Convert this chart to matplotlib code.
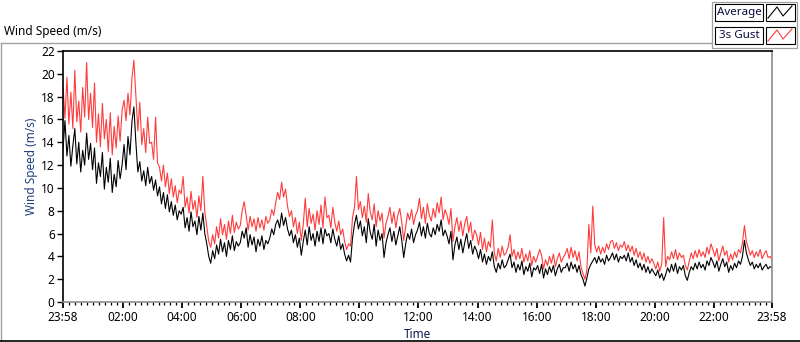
import numpy as np
import matplotlib
matplotlib.use("Agg")
import matplotlib.pyplot as plt
from matplotlib.patches import Rectangle
from matplotlib.lines import Line2D

plt.rcParams['font.family'] = ['Noto Sans', 'DejaVu Sans']

# ---- data (sampled every 4 minutes from 23:58 to 23:58) ----
sample_minutes = 4
series_names = ["Average", "3s Gust"]

average = [
    13.4, 15.9, 12.8, 14.6, 11.9, 13.7, 15.2, 12.1, 14.0, 11.4, 13.3, 12.0, 14.8, 12.5, 13.9,
    11.6, 13.5, 10.4, 12.2, 11.0, 13.1, 9.9, 11.8, 10.5, 12.6, 9.6, 11.2, 10.1, 12.4, 10.8,
    12.0, 13.8, 11.6, 14.5, 12.9, 15.8, 17.1, 14.0, 11.4, 12.3, 10.6, 11.5, 10.2, 11.8, 10.4,
    11.0, 9.8, 10.7, 9.3, 10.1, 8.6, 9.6, 8.2, 9.4, 7.9, 8.8, 7.6, 8.5, 7.2, 8.0,
    7.7, 8.3, 6.5, 7.4, 6.2, 7.9, 6.6, 7.1, 5.9, 7.5, 6.3, 7.8, 6.0, 5.1, 4.0,
    3.4, 4.5, 3.8, 5.0, 4.2, 5.5, 4.4, 5.2, 4.0, 5.4, 4.6, 5.8, 4.5, 5.3, 4.9,
    5.2, 6.2, 5.6, 6.5, 4.8, 5.9, 5.0, 5.7, 4.4, 5.5, 4.9, 5.8, 4.6, 5.4, 5.1,
    5.6, 6.4, 5.9, 6.8, 7.2, 6.5, 7.8, 6.7, 7.4, 6.4, 5.8, 6.3, 5.2, 5.9, 4.8,
    5.6, 4.1, 5.3, 6.3, 5.0, 6.6, 5.4, 6.0, 4.9, 6.2, 5.3, 6.5, 5.1, 6.4, 5.8,
    6.0, 5.2, 6.4, 5.5, 4.9, 5.8, 4.6, 5.1, 4.2, 3.6, 4.1, 3.5, 5.6, 6.8, 7.6,
    6.4, 7.1, 5.8, 6.6, 5.2, 7.3, 6.1, 5.5, 6.8, 4.9, 6.3, 5.4, 6.0, 3.9, 5.2,
    5.9, 6.5, 5.3, 6.2, 5.0, 5.8, 6.6, 5.4, 3.9, 5.1, 6.0, 5.5, 6.4, 5.2, 5.9,
    6.3, 7.0, 5.8, 6.6, 5.6, 6.9, 6.0, 5.7, 6.5, 5.9, 6.8, 6.2, 7.2, 5.8, 6.3,
    5.8, 5.1, 6.2, 3.7, 5.0, 5.7, 4.6, 5.5, 4.3, 5.2, 6.0, 4.7, 5.4, 4.2, 4.9,
    4.5, 3.8, 4.6, 3.5, 4.2, 3.3, 4.0, 3.6, 4.4, 3.1, 2.6, 3.4, 2.9, 3.7, 3.0,
    3.2, 3.7, 4.2, 3.0, 3.5, 2.6, 3.3, 2.8, 3.6, 2.4, 3.1, 2.7, 3.4, 2.2, 3.0,
    2.8, 3.2, 2.5, 3.3, 2.1, 2.9, 2.4, 3.1, 2.6, 3.2, 2.3, 2.9, 3.3, 2.6, 3.0,
    3.0, 3.4, 2.7, 3.5, 2.9, 3.3, 2.6, 3.2, 2.4, 2.0, 1.4, 2.1, 2.9, 3.3, 3.6,
    3.9, 3.4, 4.0, 3.5, 3.8, 3.3, 4.1, 3.6, 3.9, 4.3, 3.7, 4.2, 3.5, 4.0, 3.8,
    4.1, 3.6, 4.3, 3.5, 3.9, 3.2, 3.7, 3.0, 3.4, 2.8, 3.3, 2.6, 3.1, 2.5, 2.9,
    2.6, 2.3, 2.8, 2.1, 2.5, 1.9, 2.4, 3.0, 2.6, 3.3, 2.7, 3.4, 2.5, 3.1, 2.8,
    3.2, 2.3, 1.9, 2.6, 3.1, 2.8, 3.4, 2.9, 3.5, 3.0, 3.3, 2.8, 3.6, 3.2, 3.9,
    3.5, 3.0, 3.6, 2.7, 3.3, 3.8, 3.1, 3.5, 2.6, 3.2, 2.8, 3.4, 3.0, 3.6, 3.3,
    4.0, 5.4, 4.3, 3.7, 3.2, 3.5, 2.9, 3.3, 3.0, 3.4, 2.8, 3.1, 3.3, 2.9, 3.1,
    3.0,
]

gust = [
    18.9, 16.1, 19.7, 15.6, 18.4, 15.2, 20.3, 15.8, 17.6, 14.9, 18.8, 16.2, 21.0, 16.0, 18.3,
    15.3, 19.2, 14.0, 16.5, 13.6, 17.4, 14.3, 16.0, 13.2, 16.6, 12.9, 15.4, 13.5, 16.3, 14.1,
    16.8, 17.7, 15.9, 18.3, 16.4, 19.6, 21.2, 18.1, 15.0, 17.5, 13.8, 15.2, 13.1, 16.2, 13.9,
    14.0, 12.5, 16.2, 12.2, 11.8, 10.6, 12.0, 10.1, 11.3, 9.5, 10.8, 9.2, 10.2, 8.7, 9.8,
    9.5, 11.0, 8.3, 9.2, 7.8, 9.7, 8.1, 8.9, 7.4, 9.3, 8.0, 11.0, 7.9, 6.6, 5.3,
    4.8, 5.9, 5.1, 6.6, 5.6, 7.3, 5.9, 6.8, 5.5, 7.1, 6.0, 7.6, 6.1, 7.0, 6.4,
    6.7, 8.0, 8.8, 7.6, 6.3, 7.5, 6.6, 7.3, 6.2, 7.4, 6.5, 7.2, 6.3, 7.5, 6.9,
    7.2, 8.1, 7.6, 8.7, 9.6, 9.0, 10.5, 9.2, 9.9, 8.4, 7.5, 8.0, 6.6, 7.4, 6.0,
    7.0, 5.4, 6.8, 9.1, 6.6, 8.2, 6.9, 7.7, 6.3, 8.0, 6.8, 8.5, 6.5, 9.2, 7.4,
    7.6, 6.5, 8.3, 7.0, 6.2, 7.1, 5.9, 6.4, 5.3, 4.6, 5.1, 4.9, 7.4, 8.3, 11.0,
    8.1, 8.8, 7.4, 8.4, 7.0, 9.5, 7.9, 7.2, 8.6, 6.6, 8.0, 7.1, 7.8, 5.6, 6.9,
    7.5, 8.3, 6.9, 7.9, 6.5, 7.6, 8.2, 7.0, 5.4, 6.6, 7.8, 7.2, 8.1, 6.8, 7.6,
    8.0, 9.1, 7.3, 8.3, 6.9, 8.6, 7.6, 7.1, 8.2, 7.4, 8.7, 7.8, 9.2, 7.2, 8.1,
    7.6, 6.8, 8.2, 5.3, 6.6, 7.4, 6.2, 7.1, 5.8, 6.9, 7.5, 6.1, 7.0, 5.4, 6.3,
    5.9, 5.0, 6.1, 4.6, 5.6, 4.4, 5.3, 4.8, 7.2, 4.3, 3.6, 4.7, 3.9, 4.9, 4.1,
    4.3, 4.8, 5.9, 4.0, 4.6, 3.7, 4.4, 3.8, 4.7, 3.5, 4.2, 3.6, 4.5, 3.2, 4.0,
    3.5, 4.0, 4.6, 4.1, 2.9, 3.7, 3.2, 4.0, 3.4, 4.2, 3.1, 3.8, 4.3, 3.5, 3.9,
    4.2, 4.7, 3.8, 4.8, 3.9, 4.5, 3.6, 4.4, 3.1, 2.5, 2.0, 2.8, 6.8, 4.3, 8.4,
    5.0, 4.4, 4.9, 4.2, 4.8, 4.3, 5.1, 4.6, 5.3, 5.4, 4.7, 5.2, 4.5, 5.0, 4.8,
    5.3, 4.5, 5.0, 4.4, 4.9, 4.1, 4.7, 3.9, 4.4, 3.7, 4.3, 3.5, 4.0, 3.4, 3.8,
    3.4, 2.9, 3.5, 2.7, 3.3, 7.4, 3.1, 4.0, 3.7, 4.4, 3.8, 4.6, 3.7, 4.3, 3.9,
    4.1, 3.2, 2.8, 3.6, 4.3, 3.8, 4.5, 3.9, 4.6, 4.0, 4.4, 3.9, 4.8, 4.2, 5.1,
    4.6, 4.0, 4.7, 3.6, 4.3, 4.9, 4.1, 4.5, 3.5, 4.2, 3.7, 4.4, 3.9, 4.6, 4.3,
    5.2, 6.7, 5.3, 4.7, 4.1, 4.5, 3.9, 4.4, 4.0, 4.6, 3.8, 4.2, 4.5, 3.9, 4.0,
    3.7,
]

x_tick_minutes = [0, 122, 242, 362, 482, 602, 722, 842, 962, 1082, 1202, 1322, 1440]
x_tick_labels = ["23:58", "02:00", "04:00", "06:00", "08:00", "10:00", "12:00",
                 "14:00", "16:00", "18:00", "20:00", "22:00", "23:58"]
y_ticks = list(range(0, 23, 2))

# ---- figure ----
W, H = 800, 342
fig = plt.figure(figsize=(W / 100, H / 100), dpi=100, facecolor="white")

# decoration overlay in pixel coordinates
deco = fig.add_axes([0, 0, 1, 1], zorder=0)
deco.set_xlim(0, W)
deco.set_ylim(H, 0)
deco.axis("off")
gray = "#a0a0a0"
deco.add_line(Line2D([0.5, 712], [42.5, 42.5], color=gray, lw=1.0))
deco.add_line(Line2D([1, 1], [42.5, 341], color=gray, lw=1.0))
deco.add_line(Line2D([0, W], [341, 341], color="black", lw=1.2))
# legend frame
deco.add_patch(Rectangle((712, 1.5), 85, 46, facecolor="white", edgecolor=gray, lw=0.9))
label_colors = ["black", "#ff3c3c"]
for i, (name, col) in enumerate(zip(series_names, label_colors)):
    y0 = 4 + i * 23
    deco.add_patch(Rectangle((715, y0), 48, 17, facecolor="white", edgecolor="black", lw=0.8))
    deco.text(739, y0 + 8.5, name, ha="center", va="center", fontsize=8.3, color="#0a0a40")
    deco.add_patch(Rectangle((766, y0), 29, 17, facecolor="white", edgecolor="black", lw=0.8))
    zx = [768, 774.5, 779.5, 785.5, 792]
    zy = [y0 + 14.5, y0 + 8, y0 + 3, y0 + 12, y0 + 3]
    deco.add_line(Line2D([768, 777, 783, 792], [y0 + 14, y0 + 3, y0 + 12, y0 + 2], color=col, lw=0.8))

fig.text(4 / W, 1 - 32 / H, "Wind Speed (m/s)", ha="left", va="center", fontsize=8.5, color="black")

# main axes
ax = fig.add_axes([63 / W, 1 - 302 / H, (772 - 63) / W, (302 - 51) / H], zorder=2)
ax.set_facecolor("white")
t = np.arange(len(average)) * sample_minutes
ax.plot(t, gust, color="#ff3c3c", lw=0.8, label=series_names[1])
ax.plot(t, average, color="black", lw=0.8, label=series_names[0])

ax.set_xlim(0, 1440)
ax.set_ylim(0, 22)
ax.set_xticks(x_tick_minutes)
ax.set_xticklabels(x_tick_labels)
minor = []
for a, b in zip(x_tick_minutes[:-1], x_tick_minutes[1:]):
    minor.extend(np.linspace(a, b, 11)[1:-1])
ax.set_xticks(minor, minor=True)
ax.set_yticks(y_ticks)
ax.tick_params(axis="both", which="major", direction="out", length=4, width=1.0,
               labelsize=8.5, colors="black", pad=2)
ax.tick_params(axis="x", which="minor", direction="out", length=2.5, width=0.9, color="black")
ax.tick_params(axis="x", which="major", length=4.5, width=1.3, pad=2)

for side in ["left", "top"]:
    ax.spines[side].set_color("black")
    ax.spines[side].set_linewidth(1.2)
for side in ["right", "bottom"]:
    ax.spines[side].set_color("#8c8c8c")
    ax.spines[side].set_linewidth(1.2)

fig.text(31 / W, 1 - 166 / H, "Wind Speed (m/s)", rotation=90, ha="center", va="center",
         fontsize=8.5, color="#1f3f80")
fig.text(417.5 / W, 1 - 334 / H, "Time", ha="center", va="center", fontsize=8.5, color="#101850")

fig.savefig("out.png", dpi=100, facecolor="white")
